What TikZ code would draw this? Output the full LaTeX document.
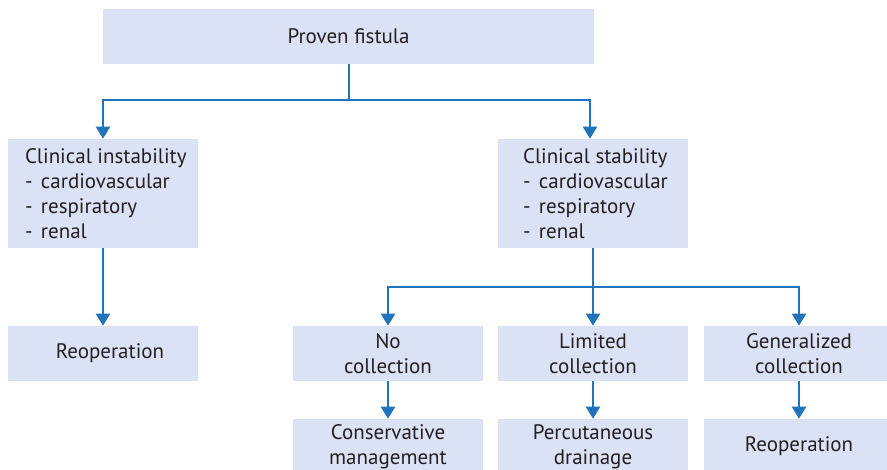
\documentclass[tikz,border=0pt]{standalone}
\usepackage{fontspec}
\setmainfont{PT Sans}
\usetikzlibrary{arrows.meta}

\definecolor{boxfill}{RGB}{220,226,246}
\definecolor{linkblue}{RGB}{33,116,187}
\definecolor{ink}{RGB}{35,31,32}

\newcommand\flowfont{\fontsize{15.75pt}{18.75pt}\selectfont}
\newcommand\listdash{\makebox[12pt][l]{-}}

\begin{document}
\begin{tikzpicture}[x=0.75pt,y=-0.75pt,
  box/.style={fill=boxfill, draw=none, inner sep=0pt,
    minimum width=142.5pt, minimum height=41.25pt,
    font=\flowfont, text=ink, align=center},
  tallbox/.style={box, minimum height=81.75pt},
  txt/.style={inner sep=0pt, font=\flowfont, text=ink},
  link/.style={draw=linkblue, line width=1.5pt},
  arrow/.style={link, -{Triangle[length=9pt,width=10.5pt]}}
]
\clip (0,0) rectangle (887,469);

% boxes
\node[box, minimum width=368.25pt] (top) at (348.5,36.5) {Proven fistula};
\node[tallbox] (instab) at (103,193.5) {};
\node[tallbox] (stab) at (593,193.5) {};
\node[box] (reopL) at (103,353.5) {};
\node[box] (nocol) at (388,353.5) {No\\collection};
\node[box] (limcol) at (593,353.5) {Limited\\collection};
\node[box] (gencol) at (799,353.5) {Generalized\\collection};
\node[box] (cons) at (388,446.5) {Conservative\\management};
\node[box] (perc) at (593,446.5) {Percutaneous\\drainage};
\node[box] (reopR) at (799,446.5) {Reoperation};

% box texts that are not centred
\node[txt, anchor=west, align=left] (instab-text) at ([xshift=12.75pt]instab.west)
  {Clinical instability\\\listdash cardiovascular\\\listdash respiratory\\\listdash renal};
\node[txt, anchor=west, align=left] (stab-text) at ([xshift=18.75pt]stab.west)
  {Clinical stability\\\listdash cardiovascular\\\listdash respiratory\\\listdash renal};
\node[txt] (reopL-text) at ([xshift=5.25pt]reopL.center) {Reoperation};

% connectors
\coordinate (split1) at (348.5,100);
\coordinate (split2) at (593,287);
\draw[link] (top.south) -- (split1);
\draw[arrow] (split1) -| (instab.north);
\draw[arrow] (split1) -| ([xshift=-2.25pt]stab.north);
\draw[arrow] (instab.south) -- (reopL.north);
\draw[link] (stab.south) -- (split2);
\draw[arrow] (split2) -| (nocol.north);
\draw[arrow] (split2) -- (limcol.north);
\draw[arrow] (split2) -| (gencol.north);
\draw[arrow] (nocol.south) -- (cons.north);
\draw[arrow] (limcol.south) -- (perc.north);
\draw[arrow] (gencol.south) -- (reopR.north);
\end{tikzpicture}
\end{document}
